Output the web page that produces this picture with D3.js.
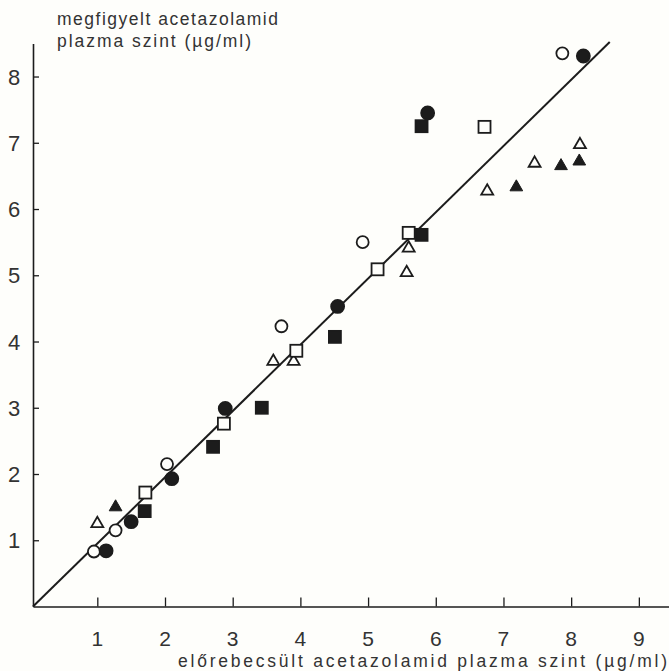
<!DOCTYPE html>
<html>
<head>
<meta charset="utf-8">
<script src="https://cdn.jsdelivr.net/npm/d3@7"></script>
<style>
  html, body { margin: 0; padding: 0; background: #fefefb; }
  svg { display: block; }
  text { font-family: "Liberation Sans", Arial, sans-serif; fill: #333; }
</style>
</head>
<body>
<svg id="chart" width="669" height="671"></svg>
<script>
// Predicted (x) vs observed (y) acetazolamide plasma levels, µg/ml
const openCircles    = [[0.95,0.83],[1.27,1.15],[2.03,2.15],[3.72,4.23],[4.92,5.50],[7.87,8.35]];
const filledCircles  = [[1.13,0.84],[1.50,1.28],[2.10,1.93],[2.89,2.99],[4.55,4.53],[5.88,7.45],[8.18,8.31]];
const openSquares    = [[1.71,1.72],[2.87,2.76],[3.94,3.86],[5.14,5.09],[5.60,5.64],[6.72,7.24]];
const filledSquares  = [[1.70,1.44],[2.71,2.41],[3.43,3.00],[4.51,4.07],[5.79,7.25],[5.79,5.61]];
const openTriangles  = [[1.00,1.25],[3.60,3.70],[3.90,3.70],[5.60,5.41],[5.57,5.04],[6.76,6.27],[7.46,6.69],[8.13,6.97]];
const filledTriangles= [[1.27,1.50],[7.19,6.33],[7.85,6.65],[8.12,6.72]];
const identityLine   = [[0.05,0],[8.57,8.52]];

const xTicks = [1,2,3,4,5,6,7,8,9];
const yTicks = [1,2,3,4,5,6,7,8];
const yTitle = ["megfigyelt acetazolamid", "plazma szint (\u00b5g/ml)"];
const xTitle = "el\u0151rebecs\u00fclt acetazolamid plazma szint (\u00b5g/ml)";

const svg = d3.select("#chart");
const ink = "#1c1c1c";

const x = d3.scaleLinear().domain([0.05, 9.5]).range([33, 672.7]);
const y = d3.scaleLinear().domain([0, 8.5]).range([606.5, 43.4]);

// axes
const xAxis = d3.axisBottom(x).tickValues(xTicks).tickSizeInner(-9).tickSizeOuter(0).tickFormat("");
const yAxis = d3.axisLeft(y).tickValues(yTicks).tickSizeInner(-6).tickSizeOuter(0).tickFormat("");

const gx = svg.append("g").attr("transform", `translate(0,${y(0)})`).call(xAxis);
const gy = svg.append("g").attr("transform", `translate(${x(0.05)},0)`).call(yAxis);
[gx, gy].forEach(g => {
  g.select(".domain").attr("stroke", ink).attr("stroke-width", 1.6);
  g.selectAll(".tick line").attr("stroke", ink).attr("stroke-width", 1.3);
});

// tick labels
svg.append("g").selectAll("text").data(xTicks).join("text")
  .attr("x", d => x(d)).attr("y", 646)
  .attr("text-anchor", "middle").attr("font-size", 21)
  .text(d => d);
svg.append("g").selectAll("text").data(yTicks).join("text")
  .attr("x", 14).attr("y", d => y(d) + 8)
  .attr("text-anchor", "middle").attr("font-size", 22)
  .text(d => d);

// axis titles
svg.append("g").selectAll("text").data(yTitle).join("text")
  .attr("x", 57).attr("y", (d, i) => 25 + i * 22)
  .attr("font-size", 17.5)
  .attr("textLength", (d, i) => i === 0 ? 221 : 194)
  .attr("lengthAdjust", "spacing")
  .text(d => d);
svg.append("text")
  .attr("x", 178).attr("y", 667)
  .attr("font-size", 17.5)
  .attr("textLength", 489).attr("lengthAdjust", "spacing")
  .text(xTitle);

// regression / identity line
svg.append("path")
  .datum(identityLine)
  .attr("d", d3.line().x(d => x(d[0])).y(d => y(d[1])))
  .attr("fill", "none").attr("stroke", ink).attr("stroke-width", 2);

// markers
const sw = 1.8;
const marks = svg.append("g");

function squares(data, filled) {
  const s = 12;
  marks.append("g").selectAll("rect").data(data).join("rect")
    .attr("x", d => x(d[0]) - s / 2).attr("y", d => y(d[1]) - s / 2)
    .attr("width", s).attr("height", s)
    .attr("fill", filled ? ink : "#fefefb")
    .attr("stroke", ink).attr("stroke-width", sw);
}
function circles(data, filled) {
  marks.append("g").selectAll("circle").data(data).join("circle")
    .attr("cx", d => x(d[0])).attr("cy", d => y(d[1]))
    .attr("r", filled ? 6.5 : 6)
    .attr("fill", filled ? ink : "#fefefb")
    .attr("stroke", ink).attr("stroke-width", sw);
}
function triangles(data, filled) {
  const tri = d3.symbol().type(d3.symbolTriangle).size(filled ? 70 : 62);
  marks.append("g").selectAll("path").data(data).join("path")
    .attr("transform", d => `translate(${x(d[0])},${y(d[1])})`)
    .attr("d", tri)
    .attr("fill", filled ? ink : "#fefefb")
    .attr("stroke", ink).attr("stroke-width", filled ? 1 : sw)
    .attr("stroke-linejoin", "miter");
}

triangles(openTriangles, false);
triangles(filledTriangles, true);
squares(openSquares, false);
squares(filledSquares, true);
circles(openCircles, false);
circles(filledCircles, true);
</script>
</body>
</html>
